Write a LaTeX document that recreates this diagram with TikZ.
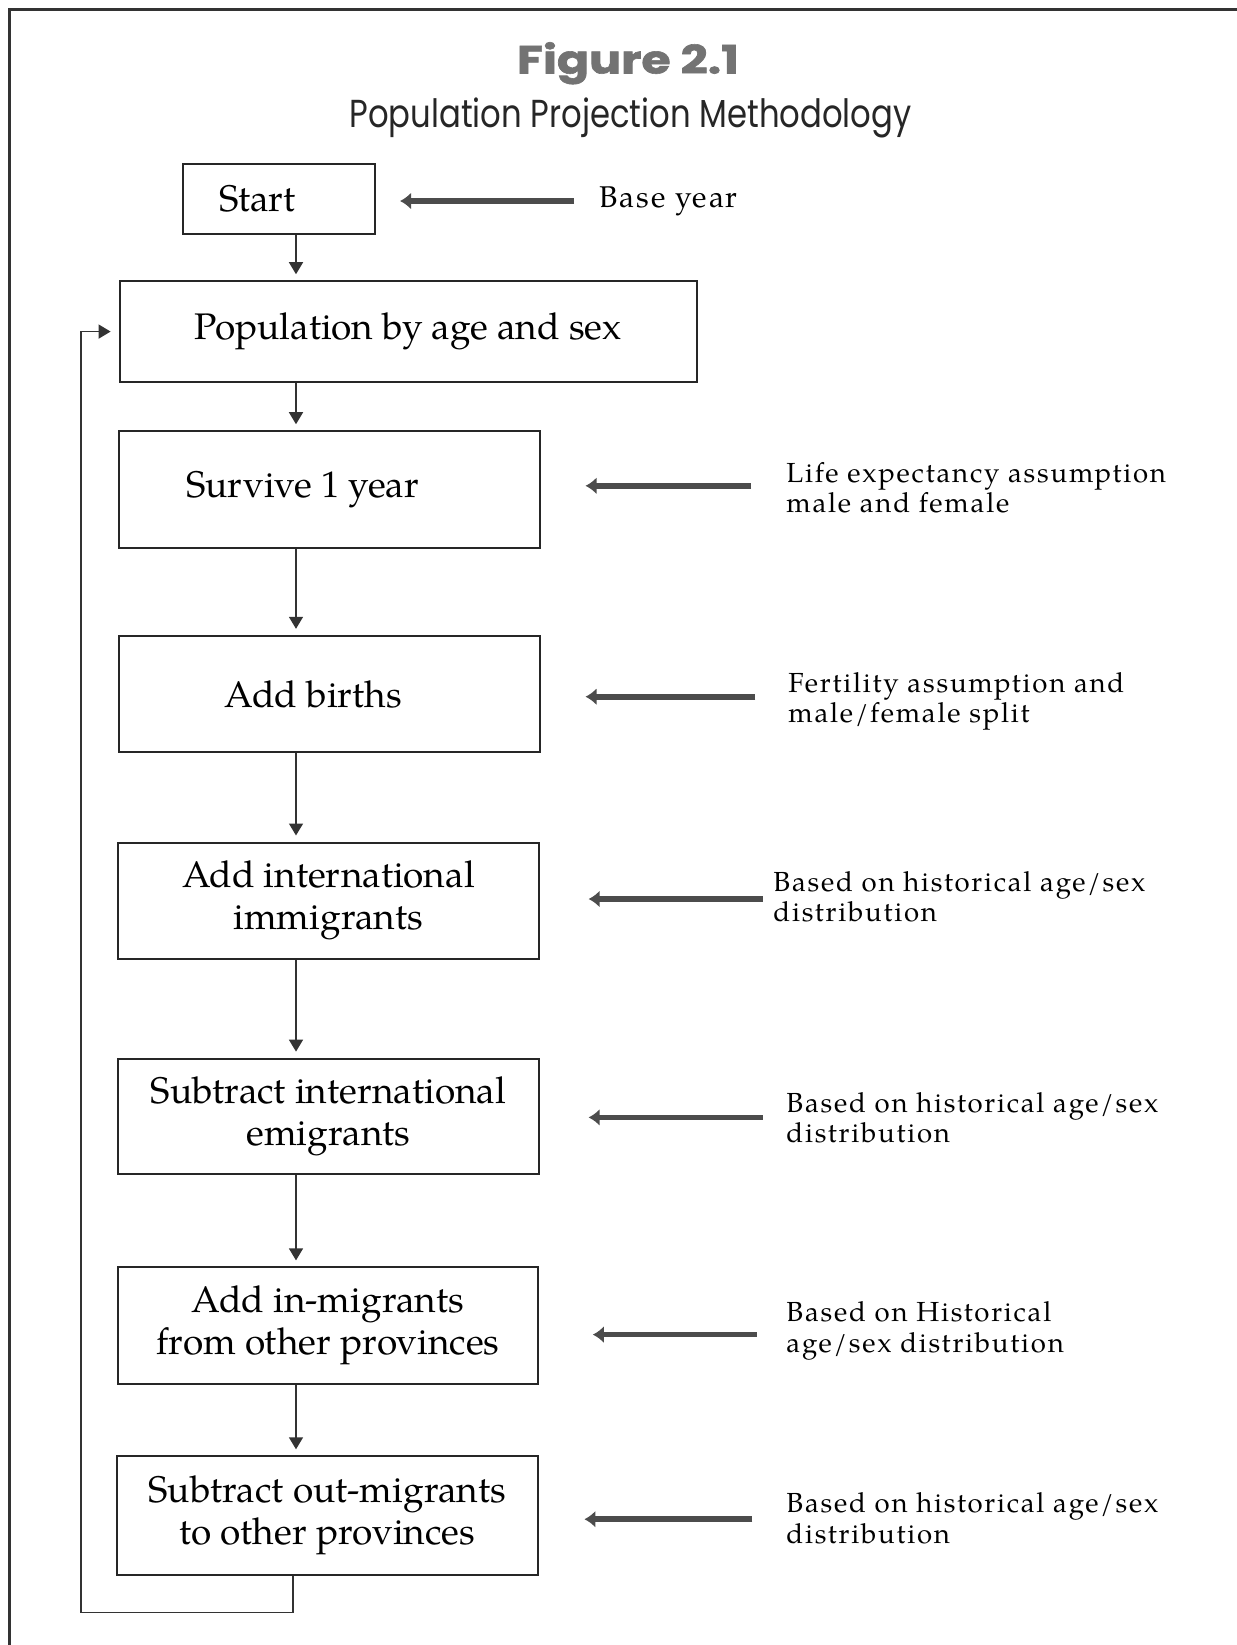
\documentclass[tikz,border=0pt]{standalone}
\usepackage{fontspec}
\setmainfont{TeX Gyre Pagella}
\newfontfamily\headfont{Poppins}
\usetikzlibrary{arrows.meta}

\begin{document}
\begin{tikzpicture}[x=0.5pt,y=-0.5pt,
  box/.style={draw=black!85, line width=1pt, inner sep=0pt, align=center,
    font=\fontsize{18.5}{21}\selectfont},
  flow/.style={draw=black!80, line width=0.75pt,
    -{Triangle[length=6pt,width=7pt]}, shorten >=3pt},
  sidearrow/.style={draw=black!70, line width=2.8pt,
    -{Latex[length=5.5pt,width=8.5pt]}},
  note/.style={anchor=base west, align=left, inner sep=0pt,
    font=\fontsize{13.8}{15.2}\selectfont\addfontfeature{LetterSpace=6.5}},
]
% page and frame
\useasboundingbox (0,0) rectangle (1237,1645);
\draw[black!80, line width=1.5pt] (9,1645) -- (9,9) -- (1237,9);

% headings
\node[anchor=base, inner sep=0pt, text=black!55,
  font=\headfont\bfseries\addfontfeature{FakeBold=1.5}\fontsize{19.6}{22}\selectfont]
  (title) at (628,73.5) {\resizebox{111pt}{\height}{Figure 2.1}};
\node[anchor=base, inner sep=0pt, text=black!85,
  font=\headfont\fontsize{19.5}{22}\selectfont] (subtitle) at (630.6,127)
  {\resizebox{281pt}{\height}{Population Projection Methodology}};

% process boxes
\node[box, minimum width=96pt, minimum height=35.25pt] (start) at (278.5,198.75)
  {Start\kern21pt};
\node[box, minimum width=288.55pt, minimum height=50.35pt] (pop) at (408.15,331.55)
  {Population by age and sex};
\node[box, minimum width=210.85pt, minimum height=58.25pt] (survive) at (329.45,489.45)
  {Survive 1 year\kern27pt};
\node[box, minimum width=210.85pt, minimum height=58.25pt] (births) at (329.45,694.05)
  {Add births\kern16pt};
\node[box, minimum width=210.9pt, minimum height=58.25pt] (immig) at (328.4,900.75)
  {Add international\\immigrants};
\node[box, minimum width=210.9pt, minimum height=57.7pt] (emig) at (328.4,1116.3)
  {Subtract international\\emigrants};
\node[box, minimum width=210.35pt, minimum height=58.3pt] (inmig) at (327.85,1325.7)
  {Add in-migrants\\from other provinces};
\node[box, minimum width=210.85pt, minimum height=59.25pt] (outmig) at (327.35,1515.55)
  {Subtract out-migrants\\to other provinces};

% flow down the chain
\coordinate (spine) at (296,0);
\draw[flow] (start.south -| spine) -- (pop.north -| spine);
\draw[flow] (pop.south -| spine) -- (survive.north -| spine);
\draw[flow] (survive.south -| spine) -- (births.north -| spine);
\draw[flow] (births.south -| spine) -- (immig.north -| spine);
\draw[flow] (immig.south -| spine) -- (emig.north -| spine);
\draw[flow] (emig.south -| spine) -- (inmig.north -| spine);
\draw[flow] (inmig.south -| spine) -- (outmig.north -| spine);

% loop back to the next year
\coordinate (loopcorner) at (80.8,1612.6);
\draw[flow, shorten >=4pt] (outmig.south -| 293,0) |- (loopcorner) |- (pop.west);

% assumptions feeding each step (base anchor sits on the last line)
\node[note, font=\fontsize{15}{15.2}\selectfont\addfontfeature{LetterSpace=6.5}]
  (base) at (599,207) {Base year};
\node[note] (life) at (786,512.4) {Life expectancy assumption\\male and female};
\node[note] (fert) at (788,722.4) {Fertility assumption and\\male/female split};
\node[note] (hist1) at (773,921.9) {Based on historical age/sex\\distribution};
\node[note] (hist2) at (786,1142.4) {Based on historical age/sex\\distribution};
\node[note] (hist3) at (786,1352.1) {Based on Historical\\age/sex distribution};
\node[note] (hist4) at (786,1543) {Based on historical age/sex\\distribution};

\coordinate (t0) at (574,201);    \coordinate (h0) at (400,201);
\coordinate (t1) at (751,485.8);  \coordinate (h1) at (585.5,485.8);
\coordinate (t2) at (755.4,696.7);\coordinate (h2) at (585.5,696.7);
\coordinate (t3) at (762.8,899);  \coordinate (h3) at (588.6,899);
\coordinate (t4) at (762.8,1117.4);\coordinate (h4) at (588.6,1117.4);
\coordinate (t5) at (756.5,1334.6);\coordinate (h5) at (592.8,1334.6);
\coordinate (t6) at (752.3,1519.2);\coordinate (h6) at (584.4,1519.2);
\foreach \i in {0,...,6} \draw[sidearrow] (t\i) -- (h\i);
\end{tikzpicture}
\end{document}
